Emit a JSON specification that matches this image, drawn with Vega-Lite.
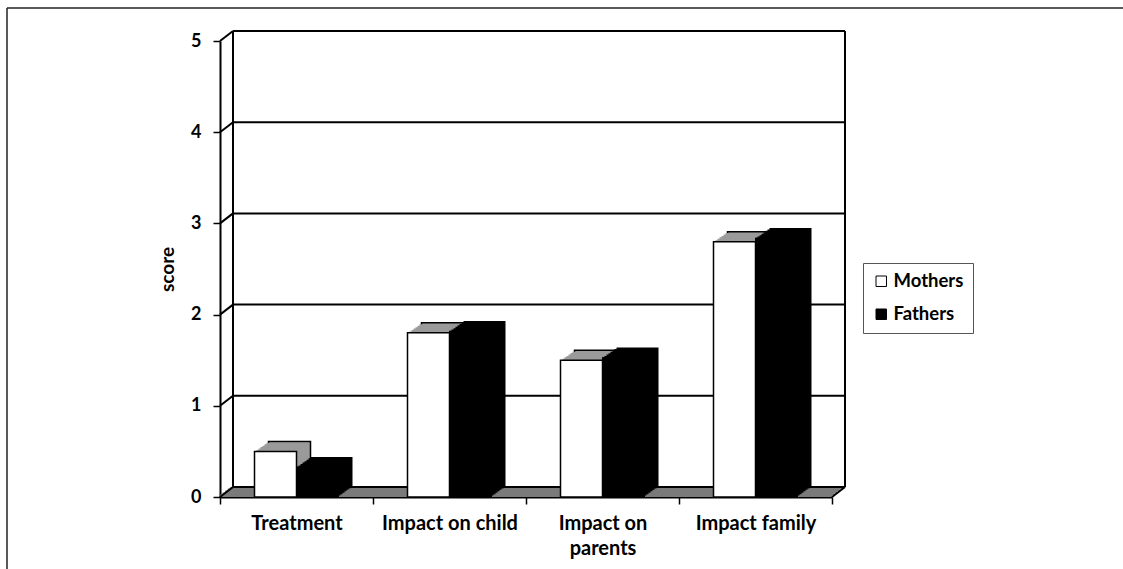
{
  "$schema": "https://vega.github.io/schema/vega-lite/v6.json",
  "autosize": {"type": "none"},
  "padding": {"left": 220, "top": 41, "right": 291, "bottom": 72},
  "width": 612,
  "height": 456,
  "background": "white",
  "config": {
    "view": {"stroke": null},
    "axis": {"grid": false},
    "axisX": {"labelAngle": 0, "domainColor": "black", "domainWidth": 2, "tickColor": "black", "tickWidth": 1.5, "tickSize": 7, "labelFont": "Lato", "labelFontWeight": "bold", "labelFontSize": 20, "labelColor": "black", "labelPadding": 9, "labelLineHeight": 25, "labelLimit": 0, "zindex": 1},
    "axisY": {"domainColor": "black", "domainWidth": 2, "tickColor": "black", "tickWidth": 1.5, "tickSize": 7, "labelFont": "Lato", "labelFontWeight": "bold", "labelFontSize": 18, "labelColor": "black", "labelPadding": 12, "titleFont": "Lato", "titleFontWeight": "bold", "titleFontSize": 19, "titleColor": "black", "titlePadding": 13, "zindex": 1}
  },
  "datasets": {
    "bars": [
      {"category": "Treatment", "series": "Mothers", "score": 0.5},
      {"category": "Treatment", "series": "Fathers", "score": 0.33},
      {"category": "Impact on child", "series": "Mothers", "score": 1.8},
      {"category": "Impact on child", "series": "Fathers", "score": 1.82},
      {"category": "Impact on parents", "series": "Mothers", "score": 1.5},
      {"category": "Impact on parents", "series": "Fathers", "score": 1.53},
      {"category": "Impact family", "series": "Mothers", "score": 2.8},
      {"category": "Impact family", "series": "Fathers", "score": 2.84}
    ],
    "grid": [{"v": 0}, {"v": 1}, {"v": 2}, {"v": 3}, {"v": 4}, {"v": 5}]
  },
  "layer": [
    {"data": {"values": [{}]}, "mark": {"type": "rect", "color": "#7a7a7a", "xOffset": 0, "x2Offset": 0, "yOffset": 0, "y2Offset": -2.4},
     "encoding": {"x": {"datum": "Treatment", "type": "nominal", "bandPosition": 0, "scale": {"domain": ["Treatment", "Impact on child", "Impact on parents", "Impact family"], "paddingInner": 0, "paddingOuter": 0}}, "x2": {"datum": "Impact family", "bandPosition": 1}, "y": {"datum": 0, "type": "quantitative", "scale": {"domain": [0, 5], "nice": false, "zero": false}}, "y2": {"datum": 0}}},
    {"data": {"values": [{}]}, "mark": {"type": "rect", "color": "#7a7a7a", "xOffset": 2.6, "x2Offset": 2.6, "yOffset": -2, "y2Offset": -4.4},
     "encoding": {"x": {"datum": "Treatment", "type": "nominal", "bandPosition": 0}, "x2": {"datum": "Impact family", "bandPosition": 1}, "y": {"datum": 0, "type": "quantitative"}, "y2": {"datum": 0}}},
    {"data": {"values": [{}]}, "mark": {"type": "rect", "color": "#7a7a7a", "xOffset": 5.2, "x2Offset": 5.2, "yOffset": -4, "y2Offset": -6.4},
     "encoding": {"x": {"datum": "Treatment", "type": "nominal", "bandPosition": 0}, "x2": {"datum": "Impact family", "bandPosition": 1}, "y": {"datum": 0, "type": "quantitative"}, "y2": {"datum": 0}}},
    {"data": {"values": [{}]}, "mark": {"type": "rect", "color": "#7a7a7a", "xOffset": 7.8, "x2Offset": 7.8, "yOffset": -6, "y2Offset": -8.4},
     "encoding": {"x": {"datum": "Treatment", "type": "nominal", "bandPosition": 0}, "x2": {"datum": "Impact family", "bandPosition": 1}, "y": {"datum": 0, "type": "quantitative"}, "y2": {"datum": 0}}},
    {"data": {"values": [{}]}, "mark": {"type": "rect", "color": "#7a7a7a", "xOffset": 10.4, "x2Offset": 10.4, "yOffset": -8, "y2Offset": -10},
     "encoding": {"x": {"datum": "Treatment", "type": "nominal", "bandPosition": 0}, "x2": {"datum": "Impact family", "bandPosition": 1}, "y": {"datum": 0, "type": "quantitative"}, "y2": {"datum": 0}}},
    {"data": {"name": "grid"}, "mark": {"type": "rule", "color": "black", "strokeWidth": 2, "xOffset": 13, "x2Offset": 13, "yOffset": -10},
     "encoding": {"x": {"datum": "Treatment", "type": "nominal", "bandPosition": 0}, "x2": {"datum": "Impact family", "bandPosition": 1}, "y": {"field": "v", "type": "quantitative"}}},
    {"data": {"values": [{}]}, "mark": {"type": "rule", "color": "black", "strokeWidth": 2, "xOffset": 13, "yOffset": -10, "y2Offset": -10},
     "encoding": {"x": {"datum": "Treatment", "type": "nominal", "bandPosition": 0}, "y": {"datum": 0, "type": "quantitative"}, "y2": {"datum": 5}}},
    {"data": {"values": [{}]}, "mark": {"type": "rule", "color": "black", "strokeWidth": 2, "xOffset": 13, "yOffset": -10, "y2Offset": -10},
     "encoding": {"x": {"datum": "Impact family", "type": "nominal", "bandPosition": 1}, "y": {"datum": 0, "type": "quantitative"}, "y2": {"datum": 5}}},
    {"data": {"name": "grid"}, "mark": {"type": "rule", "color": "black", "strokeWidth": 2, "x2Offset": 13, "y2Offset": -10},
     "encoding": {"x": {"datum": "Treatment", "type": "nominal", "bandPosition": 0}, "x2": {"datum": "Treatment", "bandPosition": 0}, "y": {"field": "v", "type": "quantitative"}, "y2": {"field": "v"}}},
    {"data": {"values": [{}]}, "mark": {"type": "rule", "color": "black", "strokeWidth": 2, "x2Offset": 13, "y2Offset": -10},
     "encoding": {"x": {"datum": "Impact family", "type": "nominal", "bandPosition": 1}, "x2": {"datum": "Impact family", "bandPosition": 1}, "y": {"datum": 0, "type": "quantitative"}, "y2": {"datum": 0}}},

    {"data": {"name": "bars"}, "transform": [{"filter": "datum.series == 'Mothers'"}], "mark": {"type": "bar", "width": 42, "color": "#9a9a9a", "stroke": "black", "strokeWidth": 1.5, "xOffset": -7, "yOffset": -10, "y2Offset": -10},
     "encoding": {"x": {"field": "category", "type": "nominal"}, "y": {"field": "score", "type": "quantitative"}}},
    {"data": {"name": "bars"}, "transform": [{"filter": "datum.series == 'Mothers'"}], "mark": {"type": "bar", "width": 42, "color": "#9a9a9a", "xOffset": -9, "yOffset": -8.57, "y2Offset": -8.57},
     "encoding": {"x": {"field": "category", "type": "nominal"}, "y": {"field": "score", "type": "quantitative"}}},
    {"data": {"name": "bars"}, "transform": [{"filter": "datum.series == 'Mothers'"}], "mark": {"type": "bar", "width": 42, "color": "#9a9a9a", "xOffset": -11, "yOffset": -7.14, "y2Offset": -7.14},
     "encoding": {"x": {"field": "category", "type": "nominal"}, "y": {"field": "score", "type": "quantitative"}}},
    {"data": {"name": "bars"}, "transform": [{"filter": "datum.series == 'Mothers'"}], "mark": {"type": "bar", "width": 42, "color": "#9a9a9a", "xOffset": -13, "yOffset": -5.71, "y2Offset": -5.71},
     "encoding": {"x": {"field": "category", "type": "nominal"}, "y": {"field": "score", "type": "quantitative"}}},
    {"data": {"name": "bars"}, "transform": [{"filter": "datum.series == 'Mothers'"}], "mark": {"type": "bar", "width": 42, "color": "#9a9a9a", "xOffset": -15, "yOffset": -4.29, "y2Offset": -4.29},
     "encoding": {"x": {"field": "category", "type": "nominal"}, "y": {"field": "score", "type": "quantitative"}}},
    {"data": {"name": "bars"}, "transform": [{"filter": "datum.series == 'Mothers'"}], "mark": {"type": "bar", "width": 42, "color": "#9a9a9a", "xOffset": -17, "yOffset": -2.86, "y2Offset": -2.86},
     "encoding": {"x": {"field": "category", "type": "nominal"}, "y": {"field": "score", "type": "quantitative"}}},
    {"data": {"name": "bars"}, "transform": [{"filter": "datum.series == 'Mothers'"}], "mark": {"type": "bar", "width": 42, "color": "#9a9a9a", "xOffset": -19, "yOffset": -1.43, "y2Offset": -1.43},
     "encoding": {"x": {"field": "category", "type": "nominal"}, "y": {"field": "score", "type": "quantitative"}}},

    {"data": {"name": "bars"}, "transform": [{"filter": "datum.series == 'Fathers'"}], "mark": {"type": "bar", "width": 42, "color": "black", "xOffset": 35, "yOffset": -10, "y2Offset": -10},
     "encoding": {"x": {"field": "category", "type": "nominal"}, "y": {"field": "score", "type": "quantitative"}}},
    {"data": {"name": "bars"}, "transform": [{"filter": "datum.series == 'Fathers'"}], "mark": {"type": "bar", "width": 42, "color": "black", "xOffset": 33, "yOffset": -8.57, "y2Offset": -8.57},
     "encoding": {"x": {"field": "category", "type": "nominal"}, "y": {"field": "score", "type": "quantitative"}}},
    {"data": {"name": "bars"}, "transform": [{"filter": "datum.series == 'Fathers'"}], "mark": {"type": "bar", "width": 42, "color": "black", "xOffset": 31, "yOffset": -7.14, "y2Offset": -7.14},
     "encoding": {"x": {"field": "category", "type": "nominal"}, "y": {"field": "score", "type": "quantitative"}}},
    {"data": {"name": "bars"}, "transform": [{"filter": "datum.series == 'Fathers'"}], "mark": {"type": "bar", "width": 42, "color": "black", "xOffset": 29, "yOffset": -5.71, "y2Offset": -5.71},
     "encoding": {"x": {"field": "category", "type": "nominal"}, "y": {"field": "score", "type": "quantitative"}}},
    {"data": {"name": "bars"}, "transform": [{"filter": "datum.series == 'Fathers'"}], "mark": {"type": "bar", "width": 42, "color": "black", "xOffset": 27, "yOffset": -4.29, "y2Offset": -4.29},
     "encoding": {"x": {"field": "category", "type": "nominal"}, "y": {"field": "score", "type": "quantitative"}}},
    {"data": {"name": "bars"}, "transform": [{"filter": "datum.series == 'Fathers'"}], "mark": {"type": "bar", "width": 42, "color": "black", "xOffset": 25, "yOffset": -2.86, "y2Offset": -2.86},
     "encoding": {"x": {"field": "category", "type": "nominal"}, "y": {"field": "score", "type": "quantitative"}}},
    {"data": {"name": "bars"}, "transform": [{"filter": "datum.series == 'Fathers'"}], "mark": {"type": "bar", "width": 42, "color": "black", "xOffset": 23, "yOffset": -1.43, "y2Offset": -1.43},
     "encoding": {"x": {"field": "category", "type": "nominal"}, "y": {"field": "score", "type": "quantitative"}}},

    {"data": {"name": "bars"}, "transform": [{"filter": "datum.series == 'Mothers'"}], "mark": {"type": "bar", "width": 42, "stroke": "black", "strokeWidth": 1.5, "xOffset": -21},
     "encoding": {
       "x": {"field": "category", "type": "nominal", "axis": {"title": null, "bandPosition": 0.5, "tickBand": "extent", "labelExpr": "datum.value == 'Impact on parents' ? ['Impact on', 'parents'] : datum.value"}},
       "y": {"field": "score", "type": "quantitative", "axis": {"title": "score", "values": [0, 1, 2, 3, 4, 5], "format": "d"}},
       "fill": {"field": "series", "type": "nominal", "scale": {"domain": ["Mothers", "Fathers"], "range": ["white", "black"]}, "legend": {"orient": "none", "legendX": 643, "legendY": 222, "title": null, "symbolType": "square", "symbolSize": 110, "symbolStrokeColor": "black", "symbolStrokeWidth": 1, "labelFont": "Lato", "labelFontWeight": "bold", "labelFontSize": 18.5, "labelColor": "black", "strokeColor": "#555", "padding": 9, "rowPadding": 14, "labelOffset": 3}}
     }},
    {"data": {"name": "bars"}, "transform": [{"filter": "datum.series == 'Fathers'"}], "mark": {"type": "bar", "width": 42, "stroke": "black", "strokeWidth": 1, "xOffset": 21},
     "encoding": {"x": {"field": "category", "type": "nominal"}, "y": {"field": "score", "type": "quantitative"}, "fill": {"field": "series", "type": "nominal"}}},

    {"data": {"values": [{}]}, "mark": {"type": "rule", "color": "#222", "strokeWidth": 1.5, "xOffset": -213, "yOffset": -33, "y2Offset": 80},
     "encoding": {"x": {"datum": "Treatment", "type": "nominal", "bandPosition": 0}, "y": {"datum": 5, "type": "quantitative"}, "y2": {"datum": 0}}},
    {"data": {"values": [{}]}, "mark": {"type": "rule", "color": "#222", "strokeWidth": 1.5, "xOffset": -213, "x2Offset": 300, "yOffset": -33},
     "encoding": {"x": {"datum": "Treatment", "type": "nominal", "bandPosition": 0}, "x2": {"datum": "Impact family", "bandPosition": 1}, "y": {"datum": 5, "type": "quantitative"}}}
  ]
}
